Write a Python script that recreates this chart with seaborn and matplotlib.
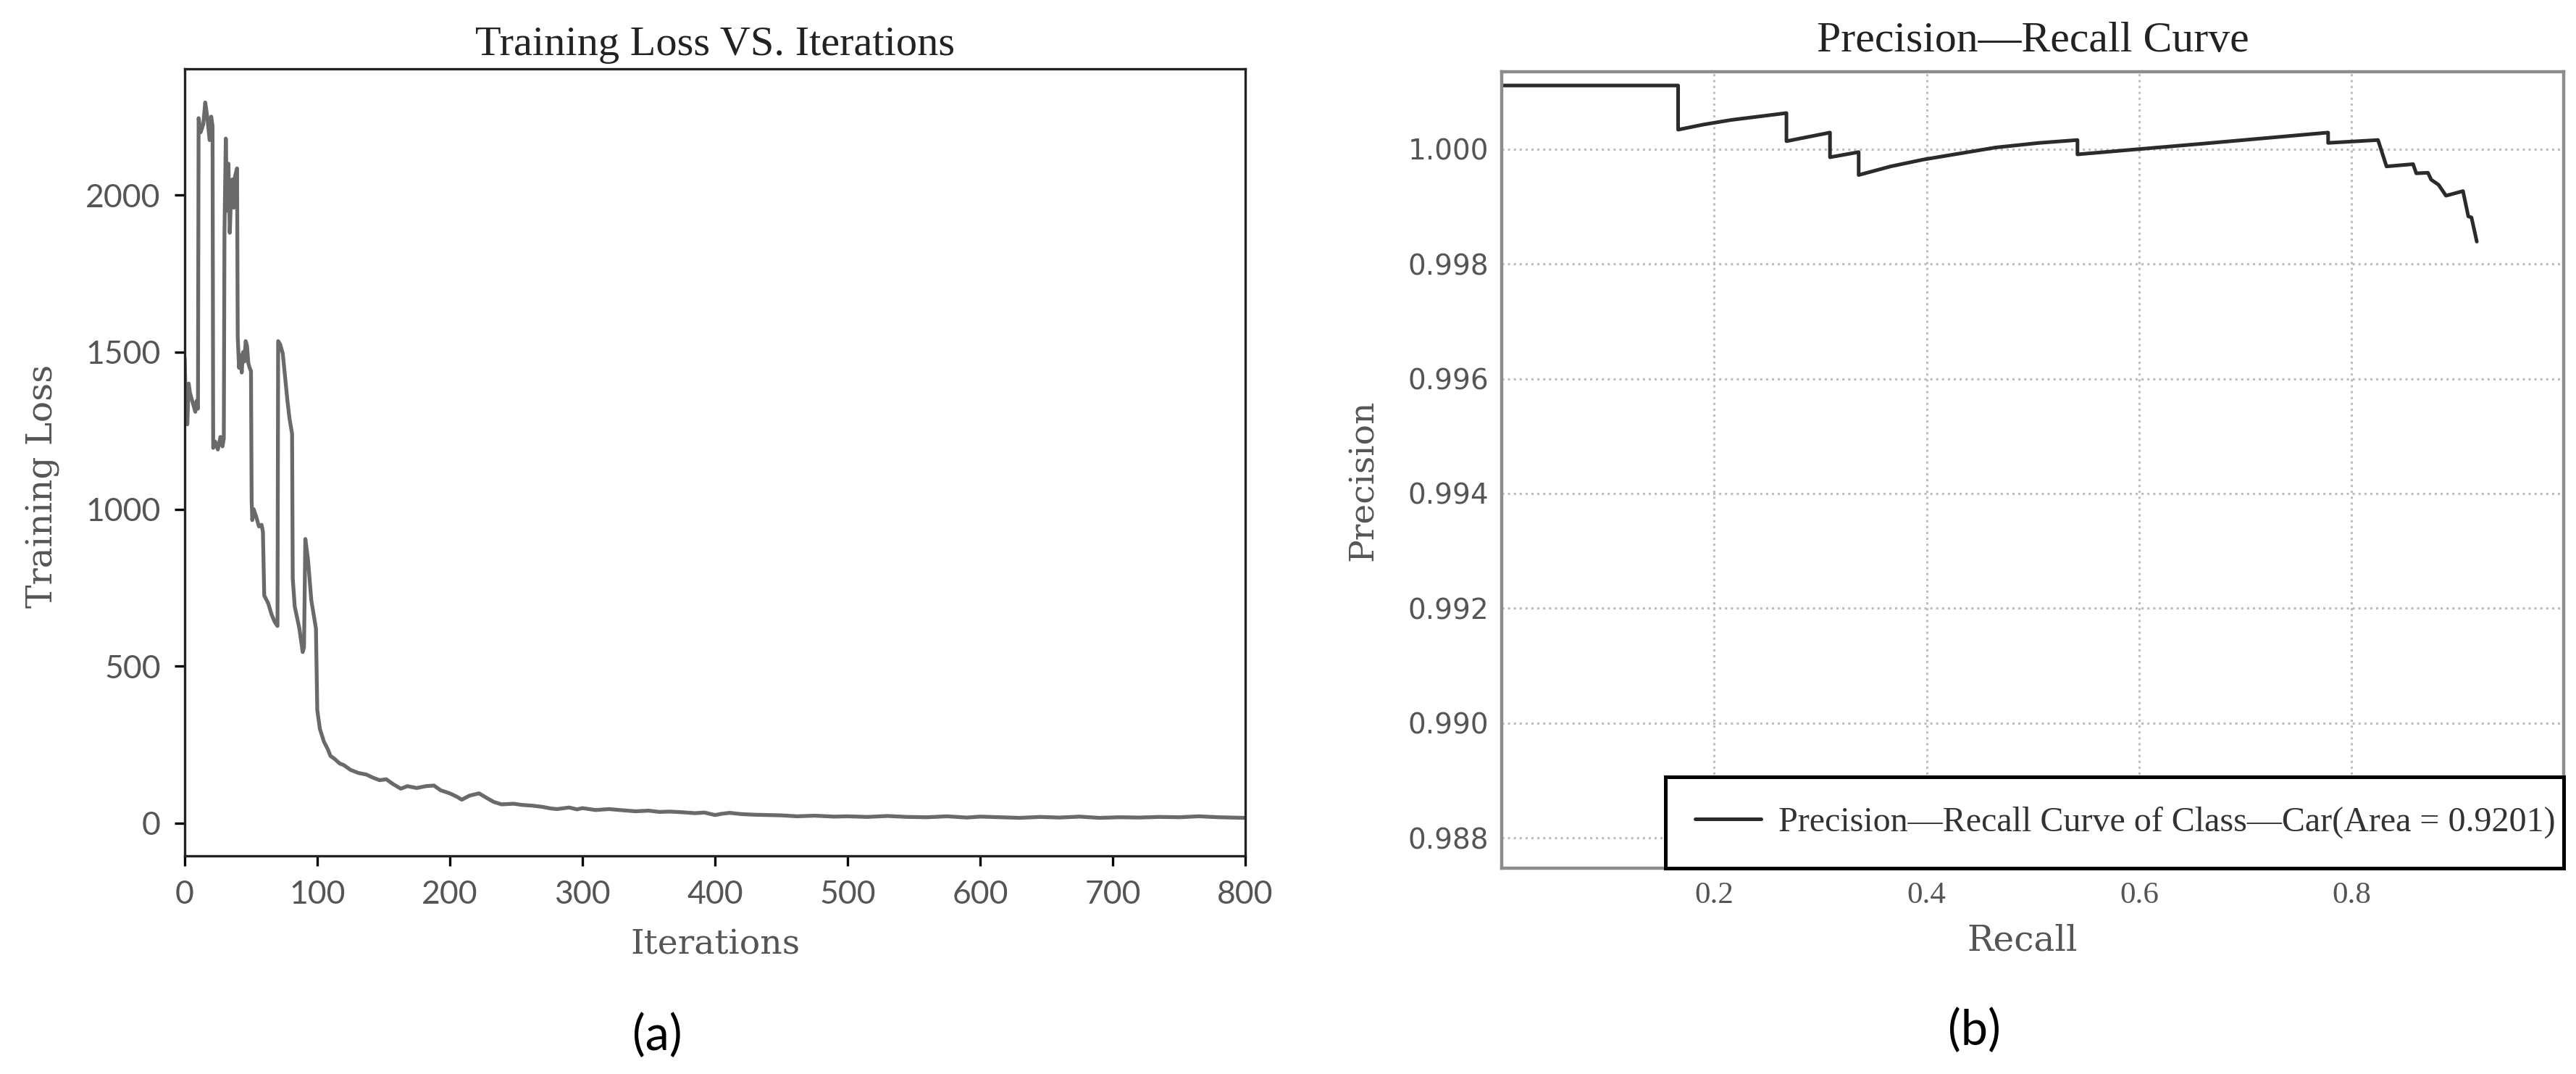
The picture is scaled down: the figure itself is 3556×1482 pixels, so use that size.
import numpy as np
import pandas as pd
import matplotlib.pyplot as plt
import seaborn as sns

# Giao diện cơ bản
sns.set_theme(style='white')
plt.rcParams['font.family'] = ['Liberation Serif', 'DejaVu Serif']
plt.rcParams['axes.unicode_minus'] = False

# === (a) Training loss, đọc từ đồ thị ===
iterations = [0, 1, 2, 3, 4, 6, 8, 9, 10, 10.5, 12, 14, 15.5, 17, 18.8, 20, 21, 21.5, 23, 25, 27,
              28.5, 29.5, 30, 31, 32, 33, 34, 35, 36, 37, 38, 39.5, 40, 41, 42, 43, 44, 45, 46,
              47, 48, 49, 50, 50.5, 51, 52, 54, 56, 58, 59, 60, 63, 65.5, 68, 70, 70.5, 72, 74,
              75.5, 77.5, 79, 81, 81.5, 83, 86.5, 89, 90, 91, 93, 95.5, 99, 100, 102, 105, 108,
              110, 113, 117, 120, 125, 131, 137, 142, 147, 152, 157, 163, 168, 175, 182, 188,
              193, 200, 205, 209, 215, 222, 228, 233, 239, 248, 255, 262, 270, 276, 281, 290,
              296, 300, 310, 320, 331, 340, 350, 358, 366, 375, 385, 392, 400, 405, 411, 420,
              430, 440, 450, 462, 475, 490, 500, 515, 530, 545, 560, 575, 590, 600, 615, 630,
              645, 660, 675, 690, 705, 720, 735, 750, 765, 780, 790, 800]
train_loss = [1480, 1290, 1270, 1400, 1370, 1340, 1310, 1345, 1320, 2245, 2200, 2225, 2295, 2250,
              2175, 2250, 2220, 1195, 1215, 1190, 1230, 1200, 1225, 1880, 2180, 1950, 2100, 1880,
              2000, 2050, 1960, 2060, 2085, 1550, 1450, 1490, 1435, 1500, 1470, 1535, 1520, 1465,
              1450, 1440, 1025, 965, 1000, 975, 945, 950, 928, 725, 700, 665, 640, 628, 1535,
              1525, 1495, 1430, 1345, 1290, 1240, 780, 690, 620, 545, 560, 905, 840, 710, 620,
              360, 300, 260, 235, 214, 205, 190, 185, 170, 160, 155, 145, 137, 140, 125, 110,
              118, 112, 118, 120, 105, 95, 85, 75, 88, 95, 80, 68, 60, 62, 58, 56, 52, 47, 45,
              50, 44, 48, 42, 45, 41, 38, 40, 36, 37, 35, 32, 34, 26, 30, 33, 29, 27, 26, 25,
              22, 24, 21, 22, 20, 23, 20, 19, 22, 18, 21, 19, 17, 20, 18, 21, 17, 19, 18, 20,
              19, 22, 19, 18, 17]

# === (b) Precision-Recall, các bậc đọc từ đồ thị ===
recall = [0.000, 0.166, 0.166, 0.190, 0.216, 0.268, 0.268, 0.309, 0.309, 0.336, 0.336, 0.366,
          0.397, 0.465, 0.506, 0.542, 0.542, 0.662, 0.778, 0.778, 0.825, 0.833, 0.858, 0.861,
          0.872, 0.875, 0.882, 0.889, 0.905, 0.910, 0.913, 0.918]
precision = [1.00111, 1.00111, 1.00034, 1.00043, 1.00051, 1.00063, 1.00014, 1.00029, 0.99986,
             0.99995, 0.99955, 0.99970, 0.99982, 1.00003, 1.00011, 1.00016, 0.99991, 1.00010,
             1.00029, 1.00011, 1.00016, 0.99970, 0.99974, 0.99958, 0.99959, 0.99947, 0.99938,
             0.99919, 0.99927, 0.99883, 0.99881, 0.99839]

loss_xticks = [0, 100, 200, 300, 400, 500, 600, 700, 800]
loss_yticks = [0, 500, 1000, 1500, 2000]
pr_xticks = [0.2, 0.4, 0.6, 0.8]
pr_yticks = [0.988, 0.990, 0.992, 0.994, 0.996, 0.998, 1.000]
legend_label = 'Precision—Recall Curve of Class—Car(Area = 0.9201)'

fig = plt.figure(figsize=(17.78, 7.41), dpi=200)
ax1 = fig.add_axes([0.0717, 0.2031, 0.4117, 0.7328])
ax2 = fig.add_axes([0.5830, 0.1916, 0.4123, 0.7416])

# === Biểu đồ (a) ===
sns.lineplot(x=iterations, y=train_loss, ax=ax1, color='#6a6a6a', linewidth=1.9,
             estimator=None, sort=False)
ax1.set_xlim(0, 800)
ax1.set_ylim(-104, 2402)
ax1.set_xticks(loss_xticks)
ax1.set_yticks(loss_yticks)
ax1.tick_params(direction='out', length=5, width=1.2, color='black', labelsize=16,
                labelcolor='#555555', pad=7, bottom=True, left=True)
plt.setp(ax1.get_xticklabels() + ax1.get_yticklabels(), fontfamily='Lato')
for sp in ax1.spines.values():
    sp.set_color('#222222')
    sp.set_linewidth(1.2)
ax1.set_title('Training Loss VS. Iterations', fontsize=21, color='#222222', pad=7)
ax1.set_xlabel('Iterations', fontsize=17, color='#555555', fontfamily='DejaVu Serif')
ax1.set_ylabel('Training Loss', fontsize=17.5, color='#555555', fontfamily='DejaVu Serif')
ax1.xaxis.set_label_coords(0.5, -0.092)
ax1.yaxis.set_label_coords(-0.1175, 0.47)
ax1.grid(False)

# === Biểu đồ (b) ===
sns.lineplot(x=recall, y=precision, ax=ax2, color='#2b2b2b', linewidth=1.8,
             estimator=None, sort=False, label=legend_label)
ax2.set_xlim(0, 1.0)
ax2.set_ylim(0.98747, 1.00135)
ax2.set_xticks(pr_xticks)
ax2.set_xticklabels([f'{v:.1f}' for v in pr_xticks])
ax2.set_yticks(pr_yticks)
ax2.set_yticklabels([f'{v:.3f}' for v in pr_yticks])
ax2.tick_params(length=0, pad=6.5, labelcolor='#555555')
plt.setp(ax2.get_yticklabels(), fontfamily='DejaVu Sans', fontsize=14)
plt.setp(ax2.get_xticklabels(), fontfamily='Liberation Serif', fontsize=15.5)
ax2.grid(True, linestyle=':', color='#bdbdbd', linewidth=1.1)
for sp in ax2.spines.values():
    sp.set_color('#8c8c8c')
    sp.set_linewidth(1.6)
ax2.set_title('Precision—Recall Curve', fontsize=21.5, color='#222222', pad=10)
ax2.set_xlabel('Recall', fontsize=17.5, color='#555555', fontfamily='DejaVu Serif')
ax2.set_ylabel('Precision', fontsize=17, color='#555555', fontfamily='DejaVu Serif')
ax2.xaxis.set_label_coords(0.49, -0.07)
ax2.yaxis.set_label_coords(-0.1146, 0.487)

leg = ax2.legend(loc='lower left', bbox_to_anchor=(0.154, 0.0, 0.846, 0.12), mode='expand',
                 borderaxespad=0, fontsize=17.3, frameon=True, fancybox=False,
                 edgecolor='black', borderpad=0.85, handlelength=1.9, handletextpad=0.5)
leg.get_frame().set_linewidth(1.8)
leg.get_frame().set_alpha(1)
for t in leg.get_texts():
    t.set_color('#333333')

# Nhãn (a), (b)
fig.text(907 / 3556, 1 - 1430 / 1482, '(a)', fontsize=24, fontfamily='Lato',
         ha='center', va='center', color='black')
fig.text(2725 / 3556, 1 - 1423 / 1482, '(b)', fontsize=24, fontfamily='Lato',
         ha='center', va='center', color='black')

fig.savefig('out.png', dpi=200)
